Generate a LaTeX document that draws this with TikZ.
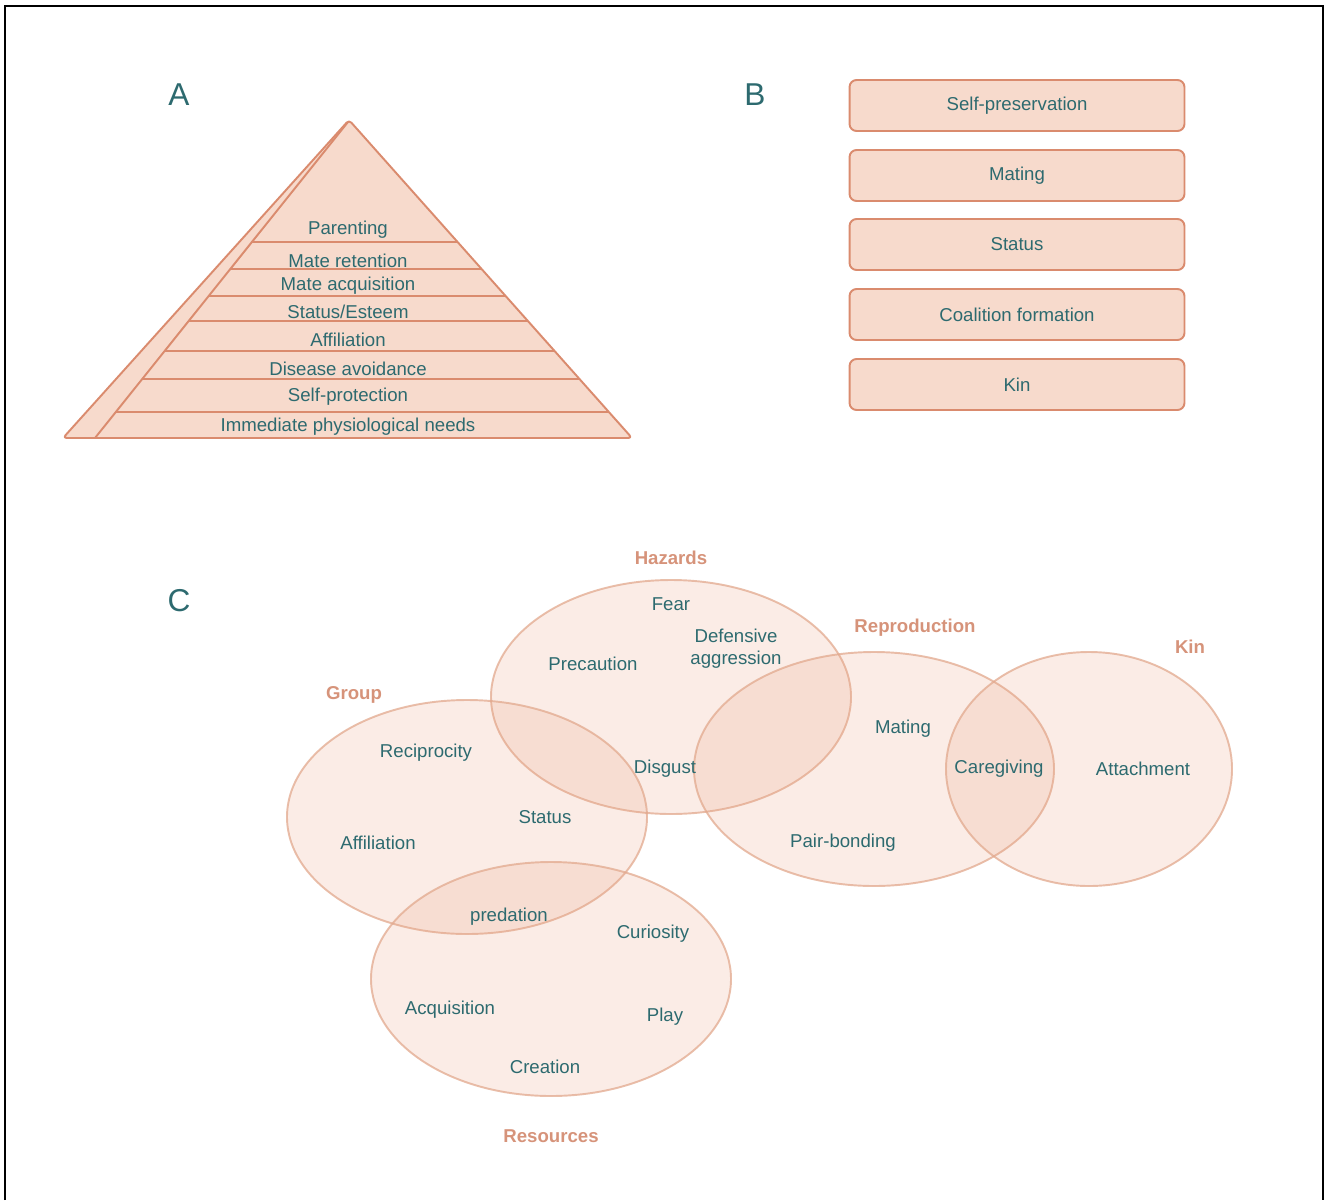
\documentclass[tikz,border=0pt]{standalone}
\usepackage{fontspec}
\setmainfont{Liberation Sans}
\usepackage{tikz}
\usetikzlibrary{shapes}
\usetikzlibrary{positioning}
\definecolor{tealtxt}{HTML}{2D6A6F}
\definecolor{peachfill}{HTML}{F7DACC}
\definecolor{peachline}{HTML}{DA8B6E}
\definecolor{vennfill}{HTML}{E9A283}
\definecolor{vennline}{HTML}{E2A98E}
\definecolor{setlbl}{HTML}{D6937A}
\tikzset{
    panel/.style = {font=\fontsize{18}{21}\selectfont, text=tealtxt},
    pyrface/.style = {fill=peachfill, draw=peachline, line width=1.1pt, rounded corners=2pt, line join=round},
    pyrline/.style = {draw=peachline, line width=1.1pt},
    pyrtext/.style = {font=\fontsize{10.6}{12.7}\selectfont, text=tealtxt, inner sep=0pt, yshift=-0.04cm},
    motive/.style = {rectangle, rounded corners=4pt, fill=peachfill, draw=peachline, line width=1.1pt,
        minimum width=6.7cm, minimum height=1.02cm, font=\fontsize{10.6}{12.7}\selectfont, text=tealtxt},
    vennset/.style = {fill=vennfill, fill opacity=0.2, draw=vennline, draw opacity=0.75, line width=1.1pt},
    venntext/.style = {font=\fontsize{10.6}{12.7}\selectfont, text=tealtxt, align=center, inner sep=0pt, yshift=-0.04cm},
    vennlabel/.style = {font=\bfseries\fontsize{10.6}{12.7}\selectfont, text=setlbl, inner sep=0pt, yshift=-0.04cm}
}

\begin{document}
\begin{tikzpicture}[x=0.02cm, y=-0.02cm]
\useasboundingbox (0,0) rectangle (1325,1200);
% frame, open at the bottom
\draw[line width=1.2pt] (5,1200) -- (5,6) -- (1323,6) -- (1323,1200);
%
\node[panel] at (179,95) (pa) {A};
\node[panel] at (755,95) (pb) {B};
\node[panel] at (179,601) (pc) {C};
%
% pyramid
\path[pyrface] (63,438) -- (349,120) -- (632,438) -- cycle;
\draw[pyrline] (348,122) -- (95,438);
\draw[pyrline] (250.9,242) -- (457.6,242);
\draw[pyrline] (229.5,269) -- (481.6,269);
\draw[pyrline] (208.0,296) -- (505.6,296);
\draw[pyrline] (188.1,321) -- (527.9,321);
\draw[pyrline] (164.2,351) -- (554.6,351);
\draw[pyrline] (141.9,379) -- (579.5,379);
\draw[pyrline] (115.7,412) -- (608.9,412);
%
\node[pyrtext] at (348,228) (par) {Parenting};
\node[pyrtext] at (348,259) (mret) {Mate retention};
\node[pyrtext] at (348,284) (macq) {Mate acquisition};
\node[pyrtext] at (348,310) (ste) {Status/Esteem};
\node[pyrtext] at (348,338) (aff) {Affiliation};
\node[pyrtext] at (348,367) (dis) {Disease avoidance};
\node[pyrtext] at (348,395) (spro) {Self-protection};
\node[pyrtext] at (348,425) (imm) {Immediate physiological needs};
%
% motive boxes
\node[motive] at (1017,105.5) (spres) {Self-preservation};
\node[motive] at (1017,175.5) (mate) {Mating};
\node[motive] at (1017,244.5) (stat) {Status};
\node[motive] at (1017,314.5) (coal) {Coalition formation};
\node[motive] at (1017,384.5) (kin) {Kin};
%
% venn
\path[vennset] (671,697) ellipse [x radius=180, y radius=117];
\path[vennset] (467,817) ellipse [x radius=180, y radius=117];
\path[vennset] (874,769) ellipse [x radius=180, y radius=117];
\path[vennset] (1089,769) ellipse [x radius=143, y radius=117];
\path[vennset] (551,979) ellipse [x radius=180, y radius=117];
%
\node[vennlabel] at (671,556) (haz) {Hazards};
\node[vennlabel] at (915,626) (rep) {Reproduction};
\node[vennlabel] at (1190,645) (kinl) {Kin};
\node[vennlabel] at (354,693) (grp) {Group};
\node[vennlabel] at (551,1134) (res) {Resources};
%
\node[venntext] at (671,602) (fear) {Fear};
\node[venntext] at (736,647) (defa) {Defensive\\aggression};
\node[venntext] at (593,662) (prec) {Precaution};
\node[venntext] at (665,767) (disg) {Disgust};
\node[venntext] at (426,751) (reci) {Reciprocity};
\node[venntext] at (545,815) (vsta) {Status};
\node[venntext] at (378,841) (vaff) {Affiliation};
\node[venntext] at (509,915) (pred) {predation};
\node[venntext] at (653,932) (curi) {Curiosity};
\node[venntext] at (450,1008) (acq) {Acquisition};
\node[venntext] at (665,1015) (play) {Play};
\node[venntext] at (545,1065) (crea) {Creation};
\node[venntext] at (903,727) (vmat) {Mating};
\node[venntext] at (843,841) (pair) {Pair-bonding};
\node[venntext] at (999,767) (care) {Caregiving};
\node[venntext] at (1143,767) (att) {Attachment};

\end{tikzpicture}
\end{document}
